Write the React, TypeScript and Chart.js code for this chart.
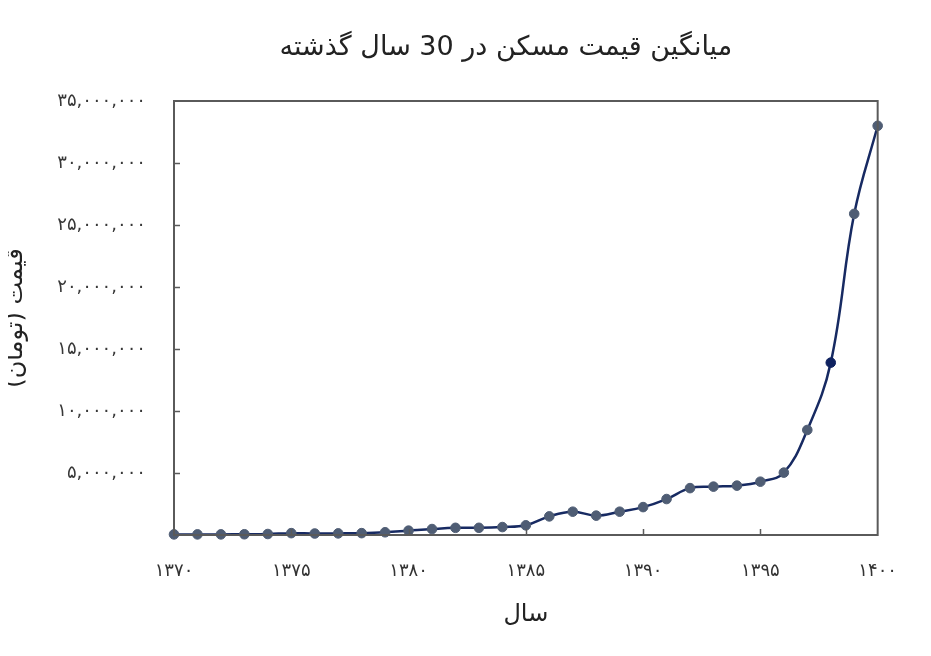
import React, { useEffect, useRef } from "react";
import { Chart, registerables } from "chart.js";

Chart.register(...registerables);

const TITLE = "میانگین قیمت مسکن در 30 سال گذشته";
const X_TITLE = "سال";
const Y_TITLE = "قیمت (تومان)\u200F";

const years = [
  1370, 1371, 1372, 1373, 1374, 1375, 1376, 1377, 1378, 1379, 1380, 1381, 1382, 1383, 1384, 1385,
  1386, 1387, 1388, 1389, 1390, 1391, 1392, 1393, 1394, 1395, 1396, 1397, 1398, 1399, 1400,
];
const prices = [
  50000, 50000, 50000, 60000, 80000, 150000, 120000, 130000, 150000, 220000, 350000, 480000,
  580000, 580000, 640000, 780000, 1500000, 1880000, 1560000, 1880000, 2250000, 2900000, 3780000,
  3900000, 3980000, 4300000, 5030000, 8470000, 13900000, 25900000, 33000000,
];
const highlightYear = 1398;

const yMin = 0;
const yMax = 35000000;
const yStep = 5000000;
const xMin = 1370;
const xMax = 1400;
const xStep = 5;

const FONT = "'DejaVu Sans', 'Noto Sans', sans-serif";
const LINE_COLOR = "#172a62";
const POINT_COLOR = "#4f5d74";
const POINT_HL = "#0f2260";
const AXIS_COLOR = "#5a5a5a";

const faDigits = "۰۱۲۳۴۵۶۷۸۹";
function toFa(s: string): string {
  return s.replace(/[0-9]/g, (d) => faDigits[Number(d)]);
}
function fmtFa(v: number): string {
  const s = Math.round(v).toString().replace(/\B(?=(\d{3})+(?!\d))/g, ",");
  return toFa(s);
}

const framePlugin = {
  id: "frameAndTitle",
  afterDraw(chart: any) {
    const { ctx, chartArea } = chart;
    const { left, right, top, bottom } = chartArea;
    ctx.save();
    ctx.strokeStyle = AXIS_COLOR;
    ctx.lineWidth = 1.5;
    const ys = chart.scales.y;
    for (let v = yMin + yStep; v < yMax; v += yStep) {
      const py = Math.round(ys.getPixelForValue(v)) + 0.5;
      ctx.beginPath();
      ctx.moveTo(left, py);
      ctx.lineTo(left + 6, py);
      ctx.stroke();
    }
    const xs = chart.scales.x;
    for (let v = xMin + xStep; v < xMax; v += xStep) {
      const px = Math.round(xs.getPixelForValue(v)) + 0.5;
      ctx.beginPath();
      ctx.moveTo(px, bottom);
      ctx.lineTo(px, bottom - 6);
      ctx.stroke();
    }
    ctx.lineWidth = 2;
    ctx.strokeStyle = AXIS_COLOR;
    ctx.strokeRect(left, top, right - left, bottom - top);
    ctx.fillStyle = "#222";
    ctx.font = `27px ${FONT}`;
    ctx.textAlign = "center";
    ctx.textBaseline = "middle";
    ctx.direction = "rtl";
    ctx.fillText(TITLE, (left + right) / 2 - 20, 40);
    ctx.restore();
  },
};

export default function App() {
  const ref = useRef<HTMLCanvasElement | null>(null);
  useEffect(() => {
    if (!ref.current) return;
    const data = years.map((yr, i) => ({ x: yr, y: prices[i] }));
    const chart = new Chart(ref.current, {
      type: "line",
      data: {
        datasets: [
          {
            data,
            borderColor: LINE_COLOR,
            borderWidth: 2.5,
            tension: 0.4,
            pointRadius: 4.8,
            pointBackgroundColor: years.map((y) => (y === highlightYear ? POINT_HL : POINT_COLOR)),
            pointBorderColor: years.map((y) => (y === highlightYear ? POINT_HL : POINT_COLOR)),
            pointBorderWidth: 1,
            clip: false as any,
          },
        ],
      },
      options: {
        animation: false,
        responsive: true,
        maintainAspectRatio: false,
        layout: { padding: { left: 0, right: 45, top: 93, bottom: 0 } },
        plugins: {
          legend: { display: false },
          tooltip: { enabled: false },
          title: { display: false },
        },
        scales: {
          x: {
            type: "linear",
            min: xMin,
            max: xMax,
            grid: { display: false, drawTicks: false },
            border: { display: true, color: AXIS_COLOR, width: 2 },
            ticks: {
              stepSize: xStep,
              padding: 26,
              color: "#333",
              font: { family: FONT, size: 18 },
              callback: (v: any) => toFa(String(v)),
            },
            title: {
              display: true,
              text: X_TITLE,
              color: "#222",
              font: { family: FONT, size: 24 },
              padding: { top: 0, bottom: 19 },
            },
            afterFit: (s: any) => {
              s.height = 113;
            },
          },
          y: {
            min: yMin,
            max: yMax,
            grid: { display: false, drawTicks: false },
            border: { display: true, color: AXIS_COLOR, width: 2 },
            ticks: {
              stepSize: yStep,
              padding: 28,
              color: "#383838",
              font: { family: FONT, size: 18 },
              callback: (v: any) => (v === 0 ? "" : fmtFa(Number(v))),
            },
            title: {
              display: true,
              text: Y_TITLE,
              color: "#222",
              font: { family: FONT, size: 24 },
              padding: { top: -7, bottom: 0 },
            },
            afterFit: (s: any) => {
              s.width = 166;
            },
          },
        },
      },
      plugins: [framePlugin],
    });
    return () => chart.destroy();
  }, []);
  return (
    <div style={{ position: "relative", width: "915px", height: "640px" }}>
      <canvas ref={ref} />
    </div>
  );
}
